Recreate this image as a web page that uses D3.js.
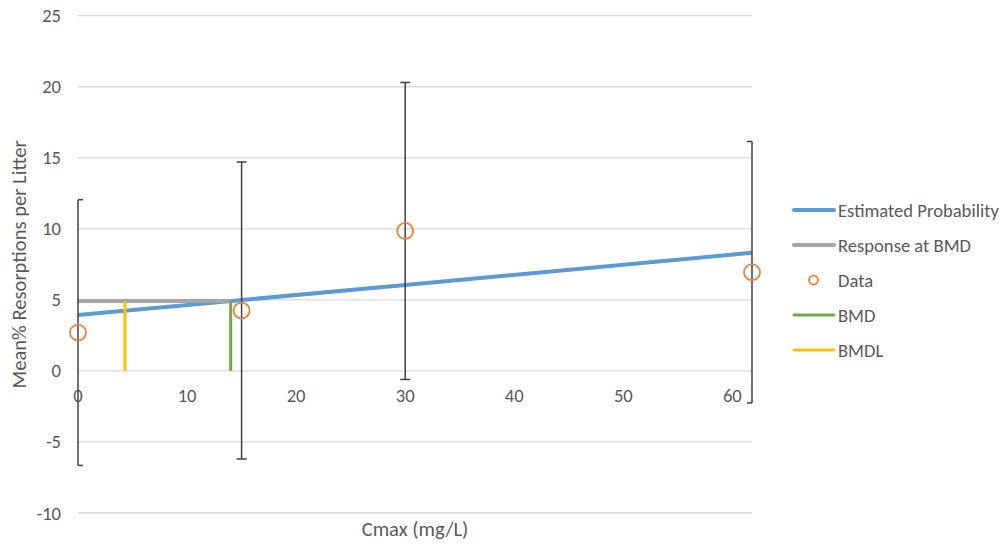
<!DOCTYPE html>
<html>
<head>
<meta charset="utf-8">
<script src="https://cdn.jsdelivr.net/npm/d3@7"></script>
<style>
  html, body { margin: 0; padding: 0; background: #fff; }
  svg { display: block; font-family: Carlito, Calibri, "Open Sans", sans-serif; }
</style>
</head>
<body>
<svg id="chart" width="1003" height="544"></svg>
<script>
// Observed dose groups (Cmax, mg/L) with mean % resorptions and error half-widths
const doses = [0, 15, 30, 61.8];
const means = [2.7, 4.25, 9.85, 6.95];
const errors = [9.35, 10.45, 10.45, 9.2];

// Fitted model curve
const fitDose = [0, 30, 61.8];
const fitResponse = [3.93, 6.05, 8.31];

// Benchmark dose results
const bmd = 14.0;
const bmdl = 4.3;
const bmdResponse = 4.92;

// Axis ticks
const xTicks = [0, 10, 20, 30, 40, 50, 60];
const yTicks = [-10, -5, 0, 5, 10, 15, 20, 25];

// Legend entries
const legendLabels = ["Estimated Probability", "Response at BMD", "Data", "BMD", "BMDL"];
const legendColors = ["#5B9BD5", "#A5A5A5", "#ED7D31", "#70AD47", "#FFC000"];

const svg = d3.select("#chart");
const xMax = 61.8;
const x = d3.scaleLinear().domain([0, xMax]).range([78, 752]);
const y = d3.scaleLinear().domain([-10, 25]).range([513, 15.7]);

const textColor = "#595959";
const tickSize = 18.6;
const titleSize = 20.6;

// Horizontal gridlines
svg.append("g").selectAll("line").data(yTicks).join("line")
  .attr("x1", x(0)).attr("x2", x(xMax))
  .attr("y1", d => y(d)).attr("y2", d => y(d))
  .attr("stroke", "#D9D9D9").attr("stroke-width", 1.3);

// Y tick labels
svg.append("g").selectAll("text").data(yTicks).join("text")
  .attr("x", 61).attr("y", d => y(d))
  .attr("dy", "0.35em")
  .attr("text-anchor", "end")
  .attr("font-size", tickSize).attr("fill", textColor)
  .text(d => d);

// X tick labels, sitting just under the zero line
svg.append("g").selectAll("text").data(xTicks).join("text")
  .attr("x", d => x(d)).attr("y", y(0) + 25)
  .attr("dy", "0.35em")
  .attr("text-anchor", "middle")
  .attr("font-size", tickSize).attr("fill", textColor)
  .text(d => d);

// Axis titles
svg.append("text")
  .attr("x", (x(0) + x(xMax)) / 2).attr("y", 529)
  .attr("dy", "0.35em")
  .attr("text-anchor", "middle")
  .attr("font-size", titleSize).attr("fill", textColor)
  .text("Cmax (mg/L)");

svg.append("text")
  .attr("transform", `translate(19,${(y(25) + y(-10)) / 2}) rotate(-90)`)
  .attr("dy", "0.35em")
  .attr("text-anchor", "middle")
  .attr("font-size", titleSize).attr("fill", textColor)
  .text("Mean% Resorptions per Litter");

const line = d3.line().x(d => x(d[0])).y(d => y(d[1]));

// Fitted model line
svg.append("path")
  .datum(d3.zip(fitDose, fitResponse))
  .attr("d", line)
  .attr("fill", "none").attr("stroke", legendColors[0]).attr("stroke-width", 4);

// Response at BMD
svg.append("path")
  .datum([[0, bmdResponse], [bmd, bmdResponse]])
  .attr("d", line)
  .attr("fill", "none").attr("stroke", legendColors[1]).attr("stroke-width", 4);

// Error bars (caps clipped to the plot area)
const capHalf = 5;
const eb = svg.append("g").attr("stroke", "#404040").attr("stroke-width", 1.5).attr("fill", "none");
doses.forEach((d, i) => {
  const cx = x(d);
  const lo = y(means[i] - errors[i]);
  const hi = y(means[i] + errors[i]);
  const cl = Math.max(x(0), cx - capHalf);
  const cr = Math.min(x(xMax), cx + capHalf);
  eb.append("line").attr("x1", cx).attr("x2", cx).attr("y1", hi).attr("y2", lo);
  eb.append("line").attr("x1", cl).attr("x2", cr).attr("y1", hi).attr("y2", hi);
  eb.append("line").attr("x1", cl).attr("x2", cr).attr("y1", lo).attr("y2", lo);
});

// Data points
svg.append("g").selectAll("circle").data(doses).join("circle")
  .attr("cx", d => x(d)).attr("cy", (d, i) => y(means[i]))
  .attr("r", 8)
  .attr("fill", "none").attr("stroke", legendColors[2]).attr("stroke-width", 1.75);

// BMD and BMDL markers
svg.append("path")
  .datum([[bmd, 0], [bmd, bmdResponse]])
  .attr("d", line)
  .attr("fill", "none").attr("stroke", legendColors[3]).attr("stroke-width", 3);

svg.append("path")
  .datum([[bmdl, 0], [bmdl, bmdResponse]])
  .attr("d", line)
  .attr("fill", "none").attr("stroke", legendColors[4]).attr("stroke-width", 3);

// Legend
const legend = svg.append("g");
legendLabels.forEach((label, i) => {
  const ly = 210 + i * 35;
  if (label === "Data") {
    legend.append("circle").attr("cx", 813.5).attr("cy", ly).attr("r", 4.5)
      .attr("fill", "none").attr("stroke", legendColors[i]).attr("stroke-width", 1.75);
  } else {
    legend.append("line").attr("x1", 794).attr("x2", 834).attr("y1", ly).attr("y2", ly)
      .attr("stroke", legendColors[i]).attr("stroke-width", i < 2 ? 4 : 3)
      .attr("stroke-linecap", "round");
  }
  legend.append("text").attr("x", 838).attr("y", ly)
    .attr("dy", "0.35em")
    .attr("font-size", tickSize).attr("fill", textColor)
    .text(label);
});
</script>
</body>
</html>
